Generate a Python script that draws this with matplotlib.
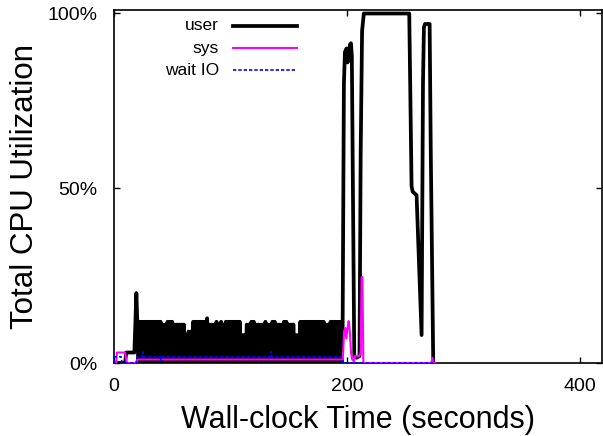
import matplotlib
matplotlib.use("Agg")
import matplotlib.pyplot as plt
from matplotlib.lines import Line2D

plt.rcParams['font.family'] = ['Liberation Sans', 'DejaVu Sans']

# ---- data ----
x_ticks = [0, 200, 400]
y_ticks = [0, 50, 100]
y_ticklabels = ["0%", "50%", "100%"]

# user CPU: start, dense 1-second block, end
user_pre_t = [0, 9.5, 10.5, 17.5, 19.2]
user_pre_v = [0, 0, 3, 3, 20]
user_block_t = list(range(20, 195))
user_block_v = [
    11.8, 0, 11.8, 0, 11.8, 0, 11.8, 0, 11.8, 0,
    11.8, 0, 11.8, 0, 11.8, 0, 11.8, 0, 11.8, 0,
    11.8, 0, 11, 0, 11, 0, 11.8, 0, 11.8, 0,
    11.8, 0, 11, 0, 11, 0, 11, 0, 11, 0,
    11, 0, 8, 0, 9, 0, 9, 0, 11.8, 0,
    11.8, 0, 11.8, 0, 11.8, 0, 11.8, 0, 11.8, 0,
    12.8, 0, 11, 0, 11, 0, 11, 0, 11.8, 0,
    11, 0, 11.8, 0, 11, 0, 11.8, 0, 11.8, 0,
    11.8, 0, 11.8, 0, 11.8, 0, 11.8, 0, 11.8, 0,
    8, 0, 8, 0, 11, 0, 11, 0, 11.8, 0,
    11.8, 0, 11, 0, 11, 0, 11, 0, 11, 0,
    11.8, 0, 11, 0, 11, 0, 11.8, 0, 11.8, 0,
    11, 0, 11, 0, 11, 0, 11.8, 0, 11.8, 0,
    11, 0, 11, 0, 11, 0, 8, 0, 8, 0,
    11.8, 0, 11.8, 0, 11.8, 0, 11.8, 0, 11.8, 0,
    11.8, 0, 11.8, 0, 11.8, 0, 11.8, 0, 11.8, 0,
    11.8, 0, 11, 0, 11, 0, 11.8, 0, 11.8, 0,
    11.8, 0, 11.8, 0, 11.8,
]
user_post_t = [195.5, 196.3, 197.4, 198.3, 199.7, 200.6, 201.5, 202.5, 203.4, 204.2,
               206.3, 208.3, 210.8, 211.8, 213.0, 214.5, 253.5, 255.5, 256.5, 259.8,
               264.1, 265.3, 266.1, 267.0, 271.0, 272.0, 274.1]
user_post_v = [0, 10, 80, 89, 90, 86, 87, 91, 91.5, 88,
               2, 1.5, 2, 60, 95, 100, 100, 50.5, 49, 48,
               8, 80, 96, 97, 97, 60, 0]

# sys CPU
sys_t = [0, 2, 2.5, 9.5, 11, 19, 20, 195.5, 196.5, 197.5, 198.5, 199.5, 200.5,
         201.5, 202.5, 203.5, 204.5, 206, 207, 210.5, 211.8, 212.6, 213.3, 214.1,
         272.5, 273.3, 274, 276]
sys_v = [0, 0, 3, 3, 0, 0, 1, 1, 1, 9, 10, 7, 10,
         12, 9, 3, 1, 0.5, 2, 2, 3, 24.6, 24.6, 0,
         0, 1.5, 0, 0]

# wait IO
wio_t = [0, 0.5, 6, 7, 19, 20, 24, 24.6, 25.2, 39.5, 40, 40.5,
         134.5, 135, 135.5, 195, 196, 276]
wio_v = [0, 1.8, 1.8, 0, 0, 1.8, 1.8, 3.2, 1.8, 1.8, 0.5, 1.8,
         1.8, 3.2, 1.8, 1.8, 0, 0]

series_names = ["user", "sys", "wait IO"]

# ---- figure ----
fig = plt.figure(figsize=(6.03, 4.36), dpi=100)
ax = fig.add_axes([114/603, 1 - 363/436, 488/603, 353/436])

user_t = user_pre_t + user_block_t + user_post_t
user_v = user_pre_v + user_block_v + user_post_v

user_style = dict(color='black', lw=2.7)
sys_style = dict(color='#ff00ff', lw=1.5)
wio_style = dict(color='#0000ff', lw=1.2, ls=(0, (2, 1.2)))

ax.plot(user_t, user_v, zorder=2, **user_style)
ax.plot(sys_t, sys_v, zorder=3, **sys_style)
ax.plot(wio_t, wio_v, zorder=4, **wio_style)

ax.set_xlim(0, 419)
ax.set_ylim(0, 101)
ax.set_xticks(x_ticks)
ax.set_yticks(y_ticks)
ax.set_yticklabels(y_ticklabels)
ax.tick_params(direction='in', length=4.5, width=1, top=True, right=True,
               labelsize=14)
ax.tick_params(axis='x', pad=11)
ax.tick_params(axis='y', pad=12)
for s in ax.spines.values():
    s.set_linewidth(1.2)

ax.set_xlabel("Wall-clock Time (seconds)", fontsize=22, labelpad=7)
ax.set_ylabel("Total CPU Utilization", fontsize=22.5, labelpad=5)

# legend (gnuplot style: right-aligned text, sample to the right)
styles = [user_style, sys_style, wio_style]
rows_y = [0.955, 0.892, 0.830]
for name, st, yy in zip(series_names, styles, rows_y):
    ax.text(0.215, yy, name, transform=ax.transAxes, ha='right', va='center',
            fontsize=12.5)
    ax.add_line(Line2D([0.244, 0.375], [yy, yy], transform=ax.transAxes, **st))

fig.savefig("out.png", dpi=100)
